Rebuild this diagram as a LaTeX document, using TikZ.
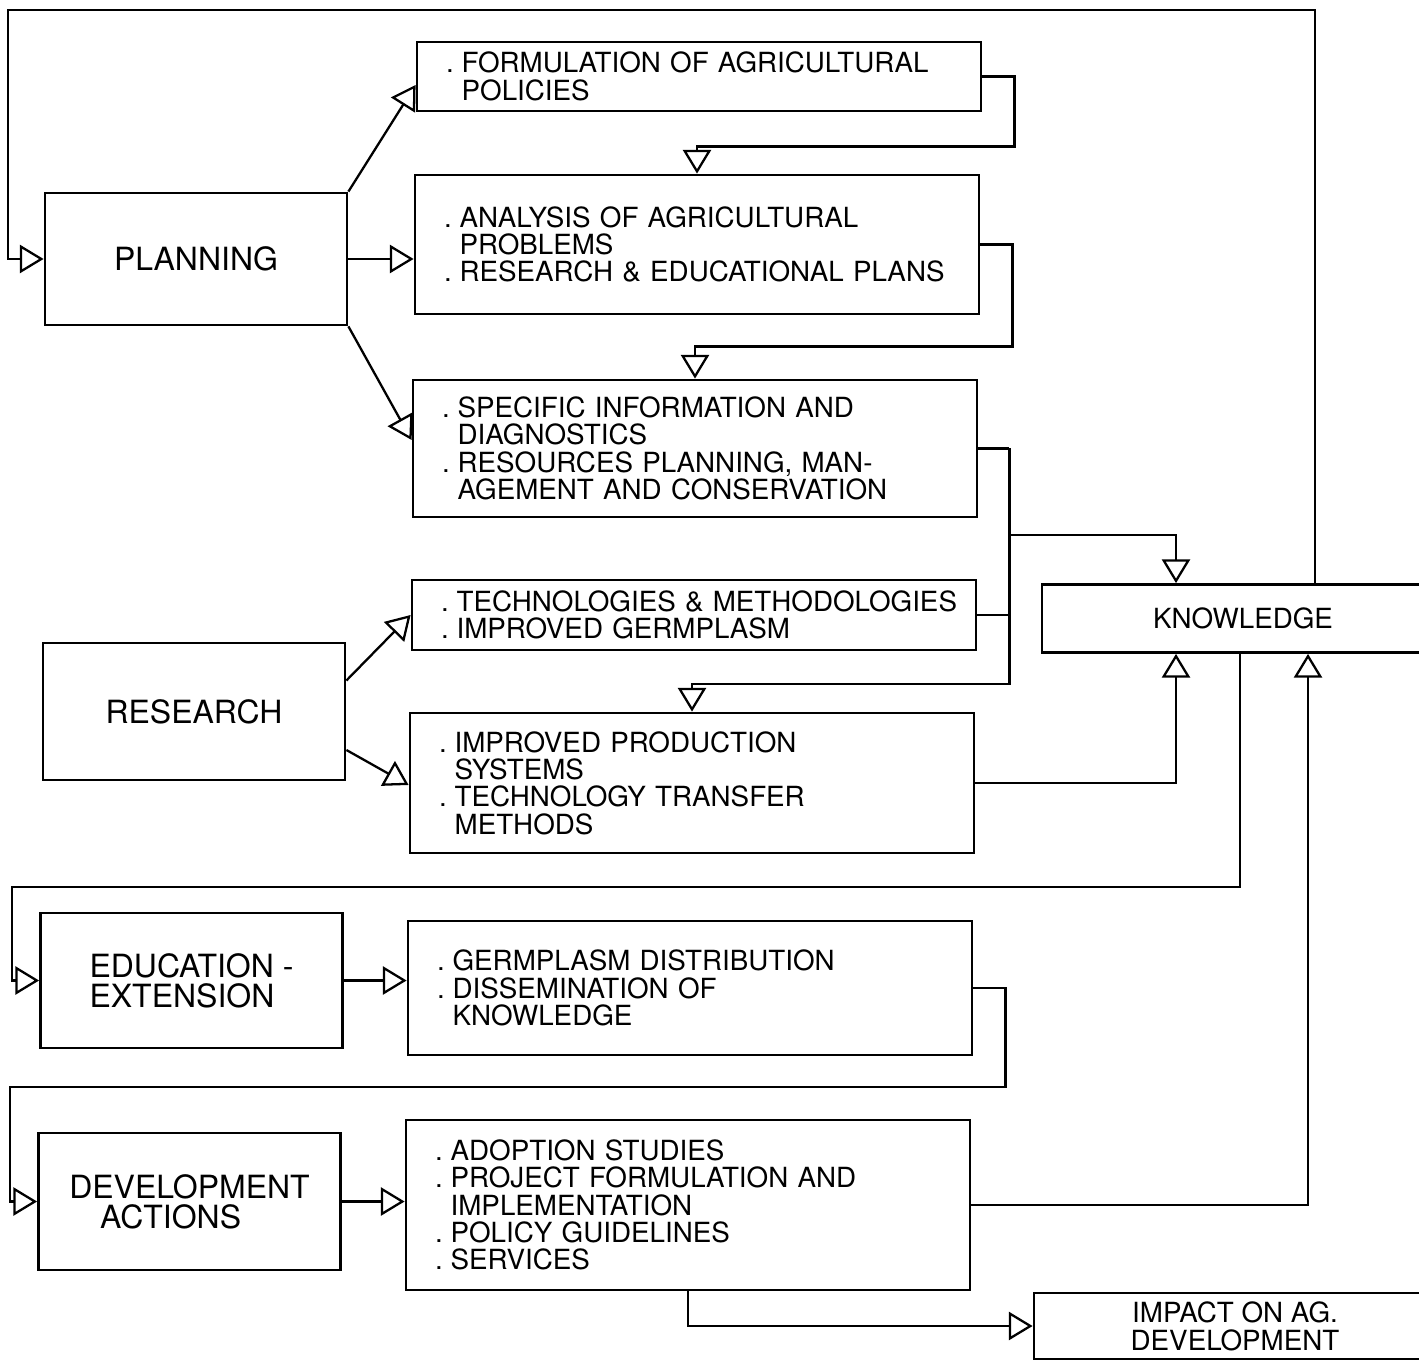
\documentclass[tikz,border=0pt]{standalone}
\usepackage{fontspec}
\setmainfont{TeX Gyre Heros}
\usetikzlibrary{arrows.meta}

\newcommand{\pxu}{0.02cm}
\newcommand{\listindent}{\leftskip=24.4pt\relax}
\newcommand{\dotmark}{\leavevmode\llap{.\hspace{4.5pt}}}

\begin{document}
\begin{tikzpicture}[x=0.02cm, y=-0.02cm, line width=1.3pt,
  % open triangle heads on every connector
  tri/.style={-{Triangle[open, length=13.5pt, width=16pt]}},
  % activity boxes on the left
  leftbox/.style={draw, line width=1.6pt, minimum width=302*\pxu, minimum height=135*\pxu,
                  inner sep=0pt, font=\fontsize{18.2}{17}\selectfont},
  % boxes holding the dotted lists
  listbox/.style={draw, line width=1.6pt, minimum width=564*\pxu, inner sep=0pt,
                  text width=319pt, align=left, font=\fontsize{15.8}{15.6}\selectfont},
  % boxes at the right edge
  outbox/.style={draw, line width=1.6pt, minimum width=402*\pxu, minimum height=68*\pxu,
                 inner sep=0pt, align=center, font=\fontsize{15.8}{16}\selectfont}
]
  \useasboundingbox (0,0) rectangle (1419,1364);

  % Left column
  \node[leftbox, minimum height=132*\pxu] (planning) at (196,259) {PLANNING};
  \node[leftbox, minimum height=137*\pxu] (research) at (194,711.5) {RESEARCH};
  \node[leftbox, align=left] (educ) at (191.5,980.5) {EDUCATION -\\EXTENSION};
  \node[leftbox, align=left, minimum height=137*\pxu] (devel) at (189.5,1201.5)
    {DEVELOPMENT\\\hspace*{17.5pt}ACTIONS};

  % Middle column
  \node[listbox, minimum height=69*\pxu] (form) at (699,76.5)
    {\listindent\dotmark FORMULATION OF AGRICULTURAL\\POLICIES\par};
  \node[listbox, minimum height=139*\pxu] (anal) at (697,244.5)
    {\listindent\dotmark ANALYSIS OF AGRICULTURAL\\PROBLEMS\\\dotmark RESEARCH \& EDUCATIONAL PLANS\par};
  \node[listbox, minimum height=137*\pxu] (spec) at (695,448.5)
    {\listindent\dotmark SPECIFIC INFORMATION AND\\DIAGNOSTICS\\\dotmark RESOURCES PLANNING, MAN-\\AGEMENT AND CONSERVATION\par};
  \node[listbox, minimum height=70*\pxu] (tech) at (694,615)
    {\listindent\dotmark TECHNOLOGIES \& METHODOLOGIES\\\dotmark IMPROVED GERMPLASM\par};
  \node[listbox, minimum height=140*\pxu] (impr) at (692,783)
    {\listindent\dotmark IMPROVED PRODUCTION\\SYSTEMS\\\dotmark TECHNOLOGY TRANSFER\\METHODS\par};
  \node[listbox, minimum height=134*\pxu] (germ) at (690,988)
    {\listindent\dotmark GERMPLASM DISTRIBUTION\\\dotmark DISSEMINATION OF\\KNOWLEDGE\par};
  \node[listbox, minimum height=170*\pxu] (adop) at (688,1205)
    {\listindent\dotmark ADOPTION STUDIES\\\dotmark PROJECT FORMULATION AND\\IMPLEMENTATION\\\dotmark POLICY GUIDELINES\\\dotmark SERVICES\par};

  % Right edge
  \node[outbox] (knowl) at (1243,618.5) {KNOWLEDGE};
  \node[outbox, minimum height=66*\pxu] (impact) at (1235,1326) {IMPACT ON AG.\\DEVELOPMENT};

  % Planning fans out to the three upper boxes
  \draw[tri] (planning.north east) -- ([yshift=-8.5*\pxu]form.west);
  \draw[tri] (planning.east) -- (planning.east -| anal.west);
  \draw[tri] (planning.south east) -- ([yshift=8.5*\pxu]spec.west);

  % Cascade down the middle column
  \draw[tri] (form.east) -- ++(32,0) -- ++(0,70) -| (anal.north);
  \draw[tri] (anal.east) -- ++(32,0) -- ++(0,102) -| (spec.north);
  \draw (spec.east) -- ++(31,0) coordinate (bus);
  \draw[tri] (bus) -- ++(0,235.5) -| (impr.north);
  \draw (tech.east) -- (tech.east -| bus);
  \draw[tri] (bus |- 0,535) -| ([xshift=-67*\pxu]knowl.north);

  % Research to its two boxes
  \draw[tri] ([yshift=31*\pxu]research.east) -- (tech.west);
  \draw[tri] ([yshift=-38.5*\pxu]research.east) -- ([yshift=-2*\pxu]impr.west);

  % Into Knowledge from below
  \draw[tri] (impr.east) -| ([xshift=-67*\pxu]knowl.south);
  \draw[tri] (adop.east) -| ([xshift=65*\pxu]knowl.south);

  % Knowledge feeds back to Planning and Education
  \draw[tri] ([xshift=72*\pxu]knowl.north) |- (8,10) |- (planning.west);
  \draw[tri] ([xshift=-3*\pxu]knowl.south) |- (12,887) |- (educ.west);

  % Education and Development rows
  \draw[tri] (educ.east) -- (educ.east -| germ.west);
  \draw[tri] (germ.east) -- ++(32,0) |- (10,1087) |- (devel.west);
  \draw[tri] (devel.east) -- (devel.east -| adop.west);

  % Toward the impact
  \draw[tri] (adop.south) |- (impact.west);

\end{tikzpicture}
\end{document}
